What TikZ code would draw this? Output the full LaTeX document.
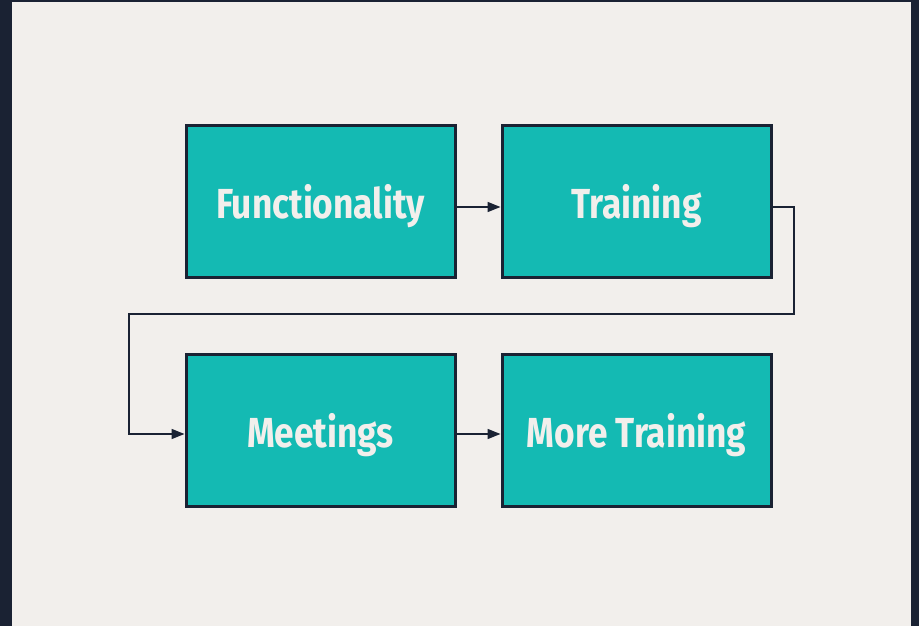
\documentclass[tikz,border=0pt]{standalone}
\usepackage{fontspec}
\usepackage{tikz}
\usetikzlibrary{arrows.meta}
\newfontfamily\boxfont[FakeStretch=0.84]{Fira Sans}
\definecolor{frame}{HTML}{1A2233}
\definecolor{paper}{HTML}{F2EFEC}
\definecolor{teal}{HTML}{14BAB3}
\tikzset{
  stagebox/.style={draw=frame, line width=3pt, fill=teal, minimum width=269pt,
    minimum height=152pt, inner sep=0pt, text depth=0pt, text=paper,
    font=\boxfont\bfseries\fontsize{42}{50}\selectfont},
  link/.style={draw=frame, line width=1.6pt, -{Triangle[length=13pt,width=10pt]}}
}
\begin{document}
\begin{tikzpicture}[x=1pt,y=-1pt]
    \fill [frame] (0,0) rectangle (919,626);
    \fill [paper] (12,2) rectangle (911,626);
    \useasboundingbox (0,0) rectangle (919,626);
    \node [stagebox] (func) at (320.5,201) {Functionality};
    \node [stagebox] (train) at (636.5,201) {Training};
    \node [stagebox] (meet) at (320.5,430) {Meetings};
    \node [stagebox] (more) at (636.5,430) {More Training};
    \coordinate (bendR) at (794,314);
    \coordinate (bendL) at (129,314);
    % arrows between the stages
    \draw [link] ([yshift=-6]func.east) -- ([yshift=-6]train.west);
    \draw [link] ([yshift=-6]train.east) -| (bendR) -- (bendL) |- ([yshift=-4]meet.west);
    \draw [link] ([yshift=-4]meet.east) -- ([yshift=-4]more.west);
\end{tikzpicture}
\end{document}
